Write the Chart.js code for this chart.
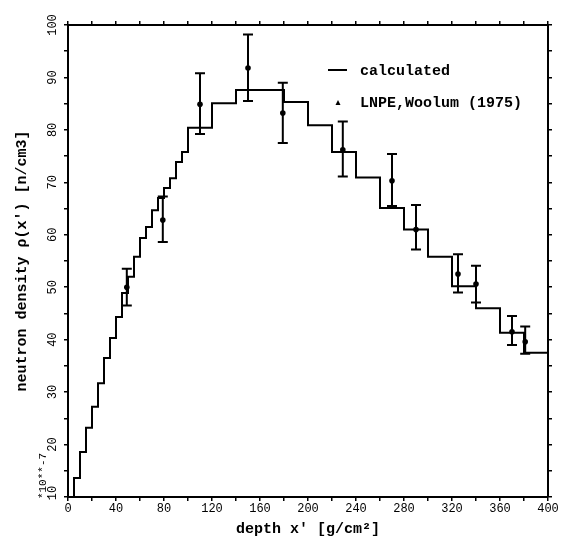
<!DOCTYPE html>
<html>
<head>
<meta charset="utf-8">
<script src="https://cdn.jsdelivr.net/npm/chart.js@4/dist/chart.umd.min.js"></script>
<style>
  html, body { margin: 0; padding: 0; background: #fff; }
  #wrap { width: 566px; height: 540px; }
</style>
</head>
<body>
<div id="wrap"><canvas id="chart" width="566" height="540"></canvas></div>
<script>
// calculated histogram: bin edges and one value per bin
const binEdges = [0, 5, 10, 15, 20, 25, 30, 35, 40, 45, 50, 55, 60, 65, 70, 75, 80, 85, 90, 95, 100,
    120, 140, 160, 180, 200, 220, 240, 260, 280, 300, 320, 340, 360, 380, 400];
const calcValues = [10, 13.6, 18.6, 23.2, 27.2, 31.7, 36.5, 40.3, 44.3, 48.9, 52.0, 55.8, 59.4, 61.5,
    64.7, 67.0, 68.9, 70.8, 73.9, 75.8,
    80.4, 85.1, 87.6, 87.6, 85.3, 80.9, 75.8, 70.9, 65.1, 61.0, 55.8, 50.2, 46.0, 41.3, 37.5];

// measured points (LNPE, Woolum 1975) with error bars
const measX = [49, 79, 110, 150, 179, 229, 270, 290, 325, 340, 370, 381];
const measY = [50.0, 62.8, 84.9, 91.8, 83.2, 76.2, 70.3, 61.0, 52.5, 50.6, 41.5, 39.6];
const errLow = [46.5, 58.6, 79.2, 85.5, 77.5, 71.1, 65.5, 57.2, 49.0, 47.1, 39.0, 37.3];
const errHigh = [53.5, 67.3, 90.8, 98.2, 89.0, 81.6, 75.4, 65.7, 56.3, 54.1, 44.5, 42.5];

// axis ticks
const yLabels = [10, 20, 30, 40, 50, 60, 70, 80, 90, 100];

const FONT = '"Liberation Mono", "DejaVu Sans Mono", monospace';

// point i sits at the left edge of bin i; the last edge repeats the last value
const stepPoints = binEdges.map((x, i) => ({ x: x, y: calcValues[Math.min(i, calcValues.length - 1)] }));
const measPoints = measX.map((x, i) => ({ x: x, y: measY[i] }));

// Error bars, drawn through the chart's scales
const errorBars = {
    id: 'errorBars',
    afterDatasetsDraw(chart) {
        const ctx = chart.ctx;
        const xs = chart.scales.x;
        const ys = chart.scales.y;
        ctx.save();
        ctx.strokeStyle = '#000';
        ctx.lineWidth = 2;
        measX.forEach((x, i) => {
            const px = xs.getPixelForValue(x);
            const top = ys.getPixelForValue(errHigh[i]);
            const bot = ys.getPixelForValue(errLow[i]);
            ctx.beginPath();
            ctx.moveTo(px, top); ctx.lineTo(px, bot);
            ctx.moveTo(px - 5, top); ctx.lineTo(px + 5, top);
            ctx.moveTo(px - 5, bot); ctx.lineTo(px + 5, bot);
            ctx.stroke();
        });
        ctx.restore();
    }
};

// Rotated y tick labels, exponent note and the legend
const decorations = {
    id: 'decorations',
    afterDraw(chart) {
        const ctx = chart.ctx;
        const ys = chart.scales.y;
        ctx.save();
        ctx.fillStyle = '#000';
        ctx.font = '12px ' + FONT;
        ctx.textAlign = 'center';
        ctx.textBaseline = 'middle';
        yLabels.forEach(v => {
            const py = ys.getPixelForValue(v) - (v === 10 ? 4 : 0);
            ctx.save();
            ctx.translate(53, py);
            ctx.rotate(-Math.PI / 2);
            ctx.fillText(String(v), 0, 0);
            ctx.restore();
        });

        // *10**-7
        ctx.save();
        ctx.translate(43, 476);
        ctx.rotate(-Math.PI / 2);
        ctx.font = '11px ' + FONT;
        ctx.fillText('*10**-7', 0, 0);
        ctx.restore();

        // legend
        ctx.strokeStyle = '#000';
        ctx.lineWidth = 2;
        ctx.beginPath();
        ctx.moveTo(328, 70); ctx.lineTo(347, 70);
        ctx.stroke();
        ctx.beginPath();
        ctx.moveTo(338, 100); ctx.lineTo(340.5, 105); ctx.lineTo(335.5, 105);
        ctx.closePath();
        ctx.fill();
        ctx.font = 'bold 15px ' + FONT;
        ctx.textAlign = 'left';
        ctx.fillText('calculated', 360, 71);
        ctx.fillText('LNPE,Woolum (1975)', 360, 103);
        ctx.restore();
    }
};

const tickGrid = {
    drawOnChartArea: false,
    drawTicks: true,
    tickLength: 4,
    color: '#000',
    lineWidth: 1.5
};
const axisBorder = { display: true, color: '#000', width: 2 };

new Chart(document.getElementById('chart').getContext('2d'), {
    type: 'scatter',
    data: {
        datasets: [{
            label: 'calculated',
            data: stepPoints,
            showLine: true,
            stepped: 'before',
            borderColor: '#000',
            borderWidth: 2,
            pointRadius: 0,
            fill: false
        }, {
            label: 'LNPE,Woolum (1975)',
            data: measPoints,
            showLine: false,
            pointStyle: 'circle',
            pointRadius: 2.8,
            backgroundColor: '#000',
            borderColor: '#000',
            borderWidth: 0
        }]
    },
    options: {
        responsive: false,
        animation: false,
        layout: { padding: 0 },
        plugins: {
            legend: { display: false },
            tooltip: { enabled: false }
        },
        scales: {
            x: {
                type: 'linear',
                position: 'bottom',
                min: 0,
                max: 400,
                afterFit: s => { s.height = 43; },
                grid: tickGrid,
                border: axisBorder,
                ticks: {
                    stepSize: 20,
                    maxRotation: 0,
                    autoSkip: false,
                    padding: 1,
                    color: '#000',
                    font: { family: FONT, size: 12 },
                    callback: v => (v % 40 === 0 ? String(v) : '')
                },
                title: {
                    display: true,
                    text: "depth x' [g/cm\u00B2]",
                    color: '#000',
                    font: { family: FONT, size: 15, weight: 'bold' },
                    padding: { top: 0, bottom: 2 }
                }
            },
            x2: {
                type: 'linear',
                position: 'top',
                min: 0,
                max: 400,
                afterFit: s => { s.height = 25; },
                grid: tickGrid,
                border: axisBorder,
                ticks: { stepSize: 20, display: false }
            },
            y: {
                type: 'linear',
                position: 'left',
                min: 10,
                max: 100,
                afterFit: s => { s.width = 68; },
                grid: tickGrid,
                border: axisBorder,
                ticks: { stepSize: 5, display: false },
                title: {
                    display: true,
                    text: "neutron density \u03C1(x') [n/cm3]",
                    color: '#000',
                    font: { family: FONT, size: 15, weight: 'bold' },
                    padding: { top: 13, bottom: 0 }
                }
            },
            y2: {
                type: 'linear',
                position: 'right',
                min: 10,
                max: 100,
                afterFit: s => { s.width = 18; },
                grid: tickGrid,
                border: axisBorder,
                ticks: { stepSize: 5, display: false }
            }
        }
    },
    plugins: [errorBars, decorations]
});
</script>
</body>
</html>
